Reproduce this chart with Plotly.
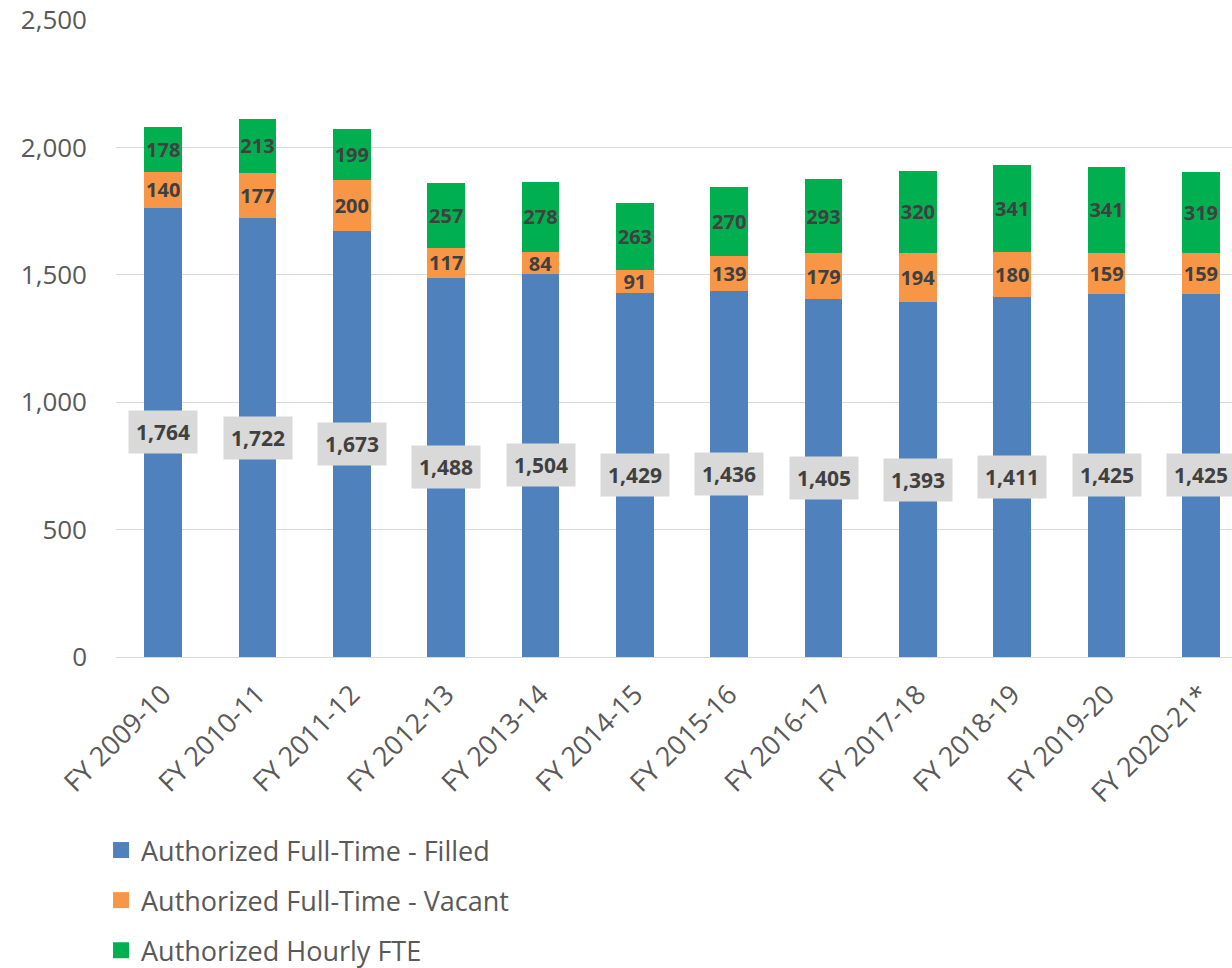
import plotly.graph_objects as go

categories = ["FY 2009-10", "FY 2010-11", "FY 2011-12", "FY 2012-13", "FY 2013-14", "FY 2014-15",
              "FY 2015-16", "FY 2016-17", "FY 2017-18", "FY 2018-19", "FY 2019-20", "FY 2020-21*"]
filled = [1764, 1722, 1673, 1488, 1504, 1429, 1436, 1405, 1393, 1411, 1425, 1425]
vacant = [140, 177, 200, 117, 84, 91, 139, 179, 194, 180, 159, 159]
hourly = [178, 213, 199, 257, 278, 263, 270, 293, 320, 341, 341, 319]
series_names = ["Authorized Full-Time - Filled", "Authorized Full-Time - Vacant", "Authorized Hourly FTE"]
series_colors = ["#4f81bd", "#f79646", "#00b050"]
y_ticks = [0, 500, 1000, 1500, 2000, 2500]

FONT = "Open Sans"
LABEL_COLOR = "#404040"
TICK_COLOR = "#595959"

fig = go.Figure()
series_values = [filled, vacant, hourly]
for i, (name, vals, col) in enumerate(zip(series_names, series_values, series_colors)):
    kw = {}
    if i > 0:
        kw = dict(text=[f"{v:,}" for v in vals], textposition="inside",
                  insidetextanchor="middle", textangle=0, constraintext="none",
                  textfont=dict(family=FONT, size=20, color=LABEL_COLOR, weight="bold"))
    fig.add_trace(go.Bar(name=name, x=categories, y=vals, showlegend=False,
                         marker=dict(color=col, line=dict(width=0)), **kw))
    # legend entry with a larger square swatch
    fig.add_trace(go.Scatter(name=name, x=[None], y=[None], mode="markers",
                             marker=dict(symbol="square", size=18, color=col),
                             legendgroup=f"g{i}", showlegend=True))

for c, v in zip(categories, filled):
    fig.add_annotation(x=c, y=v / 2, text=f"{v:,}", showarrow=False,
                       font=dict(family=FONT, size=21, color=LABEL_COLOR, weight="bold"),
                       bgcolor="#d9d9d9", borderpad=7)

fig.update_layout(
    width=1232, height=968,
    barmode="stack", bargap=0.6,
    paper_bgcolor="white", plot_bgcolor="white",
    margin=dict(l=116, r=0, t=20, b=311),
    font=dict(family=FONT, color=TICK_COLOR),
    legend=dict(orientation="v", x=-0.0134, xanchor="left", yref="container", y=1 - 826 / 968,
                yanchor="top", font=dict(family=FONT, size=27, color=TICK_COLOR),
                tracegroupgap=12, traceorder="grouped", itemwidth=30),
    xaxis=dict(range=[-0.5, 11.33], tickangle=-45, tickfont=dict(size=27, color=TICK_COLOR),
               showline=True, linecolor="#d9d9d9", linewidth=1, ticks="", ticklabelstandoff=10),
    yaxis=dict(range=[0, 2500], tickvals=y_ticks, tickformat=",", showgrid=True,
               gridcolor="#d9d9d9", gridwidth=1, zeroline=False, ticklabelstandoff=28,
               tickfont=dict(size=26, color=TICK_COLOR)),
)

fig.write_html("out.html", config={"displayModeBar": False},
               post_script="document.body.style.margin='0';document.body.style.overflow='hidden';")
